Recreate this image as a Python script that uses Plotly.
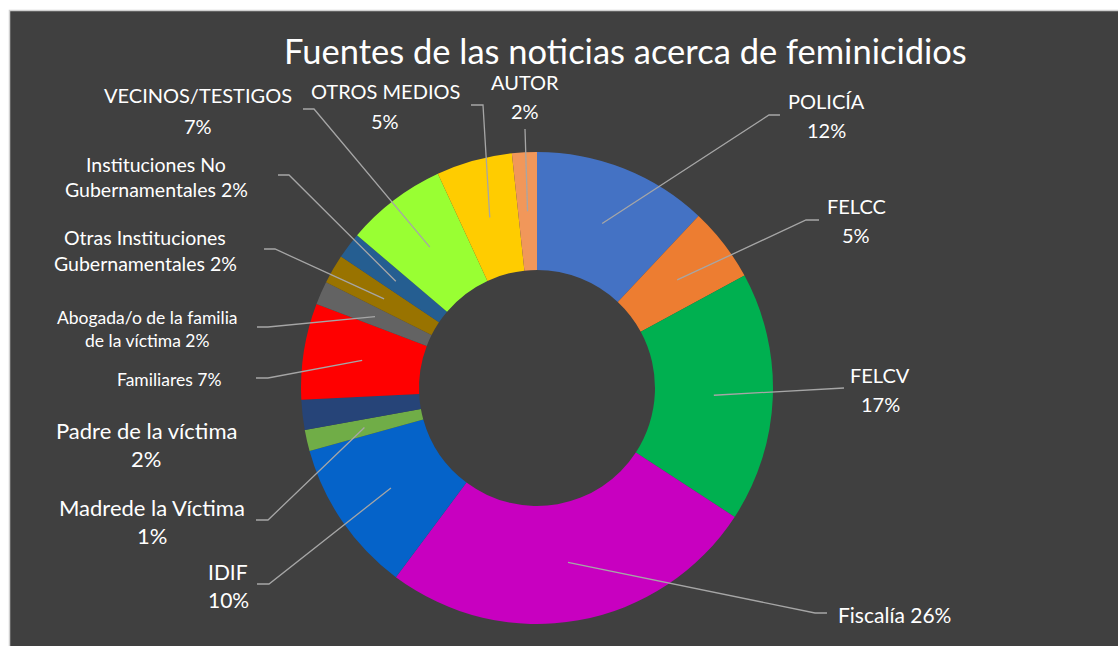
import math
import plotly.graph_objects as go

W, H = 1118, 646

# ---------------- data ----------------
categories = ["POLICÍA", "FELCC", "FELCV", "Fiscalía", "IDIF",
              "Madrede la Víctima", "Padre de la víctima", "Familiares",
              "Abogada/o de la familia de la víctima",
              "Otras Instituciones Gubernamentales",
              "Instituciones No Gubernamentales",
              "VECINOS/TESTIGOS", "OTROS MEDIOS", "AUTOR"]
values = [12.0, 5.1, 17.1, 26.0, 10.5, 1.45, 2.05, 6.6, 1.6, 2.0, 1.8, 6.9, 5.2, 1.7]
title_text = "Fuentes de las noticias acerca de feminicidios"

# ---------------- style ----------------
colors = ["#4472C4", "#ED7D31", "#00B050", "#C800C0", "#0563C9", "#70AD47",
          "#264478", "#FF0000", "#636363", "#997300", "#255E91", "#99FF33",
          "#FFCC00", "#F1975A"]
BG = "#404040"
TXT = "#FFFFFF"
LEADER = "#A6A6A6"
FONT = "Lato"

CX, CY, R = 537, 388, 236      # pie centre / radius in pixels
HOLE = 0.5

# label layout: text lines, x centre, y of each line, font size, leader path (px)
label_specs = [
    dict(lines=["POLICÍA", "{p}%"], x=826, ys=[101, 130], s=20, path=[(769, 115), (780, 115)]),
    dict(lines=["FELCC", "{p}%"], x=856, ys=[206, 235], s=20, path=[(806, 220), (819, 220)]),
    dict(lines=["FELCV", "{p}%"], x=880, ys=[375, 404], s=20, path=[(844, 388)]),
    dict(lines=["Fiscalía {p}%"], x=894, ys=[614], s=21, path=[(815, 613), (827, 613)]),
    dict(lines=["IDIF", "{p}%"], x=228, ys=[571, 599], s=21, path=[(269, 584), (257, 584)]),
    dict(lines=["Madrede la Víctima", "{p}%"], x=152, ys=[507, 535], s=22, path=[(268, 520), (256, 520)]),
    dict(lines=["Padre de la víctima", "{p}%"], x=146, ys=[430, 458], s=22, path=None),
    dict(lines=["Familiares {p}%"], x=169, ys=[379], s=17.5, path=[(268, 378), (256, 378)]),
    dict(lines=["Abogada/o de la familia", "de la víctima {p}%"], x=147, ys=[317, 340], s=17.5,
         path=[(268, 327), (257, 327)]),
    dict(lines=["Otras Instituciones", "Gubernamentales {p}%"], x=145, ys=[237, 263], s=19.5,
         path=[(275, 249), (264, 249)]),
    dict(lines=["Instituciones No", "Gubernamentales {p}%"], x=156, ys=[164, 189], s=19.5,
         path=[(289, 175), (278, 175)]),
    dict(lines=["VECINOS/TESTIGOS", "{p}%"], x=198, ys=[95, 126], s=20, path=[(314, 109), (303, 109)]),
    dict(lines=["OTROS MEDIOS", "{p}%"], x=385, ys=[91, 121], s=20, path=[(483, 105), (471, 105)]),
    dict(lines=["AUTOR", "{p}%"], x=525, ys=[82, 111], s=20, path=[(525, 129)]),
]


def px(x):
    return x / W


def py(y):
    return 1 - y / H


fig = go.Figure()
fig.add_trace(go.Pie(
    labels=categories, values=values, hole=HOLE, sort=False,
    direction="clockwise", rotation=0,
    marker=dict(colors=colors, line=dict(width=0)),
    textinfo="none", showlegend=False, hoverinfo="label+percent",
    domain=dict(x=[px(CX - R), px(CX + R)], y=[py(CY + R), py(CY - R)]),
))

shapes = [dict(type="rect", xref="paper", yref="paper", layer="below",
               x0=px(9.5), x1=1.01, y0=-0.01, y1=py(10.5),
               fillcolor=BG, line=dict(color="#D0D0D0", width=1.5))]
annotations = []

total = sum(values)
cum = 0.0
for val, spec in zip(values, label_specs):
    mid = (cum + val / 2) / total * 2 * math.pi
    cum += val
    pct = round(val / total * 100)
    rr = R * (1 + HOLE) / 2
    sx, sy = CX + rr * math.sin(mid), CY - rr * math.cos(mid)
    if spec["path"]:
        pts = [(sx, sy)] + spec["path"]
        d = "M " + " L ".join(f"{px(a):.5f},{py(b):.5f}" for a, b in pts)
        shapes.append(dict(type="path", xref="paper", yref="paper", path=d,
                           line=dict(color=LEADER, width=1.3)))
    for line, yy in zip(spec["lines"], spec["ys"]):
        annotations.append(dict(
            text=line.format(p=pct), x=px(spec["x"]), y=py(yy),
            xref="paper", yref="paper", xanchor="center", yanchor="middle",
            showarrow=False, font=dict(family=FONT, size=spec["s"], color=TXT)))

annotations.append(dict(text=title_text, x=px(625), y=py(50), xref="paper", yref="paper",
                        xanchor="center", yanchor="middle", showarrow=False,
                        font=dict(family=FONT, size=34.5, color=TXT)))

fig.update_layout(
    width=W, height=H, margin=dict(l=0, r=0, t=0, b=0),
    paper_bgcolor="#FFFFFF", plot_bgcolor="#FFFFFF",
    shapes=shapes, annotations=annotations,
)

fig.write_html("out.html", config={"displayModeBar": False},
               post_script="document.body.style.margin='0';document.body.style.overflow='hidden';")
